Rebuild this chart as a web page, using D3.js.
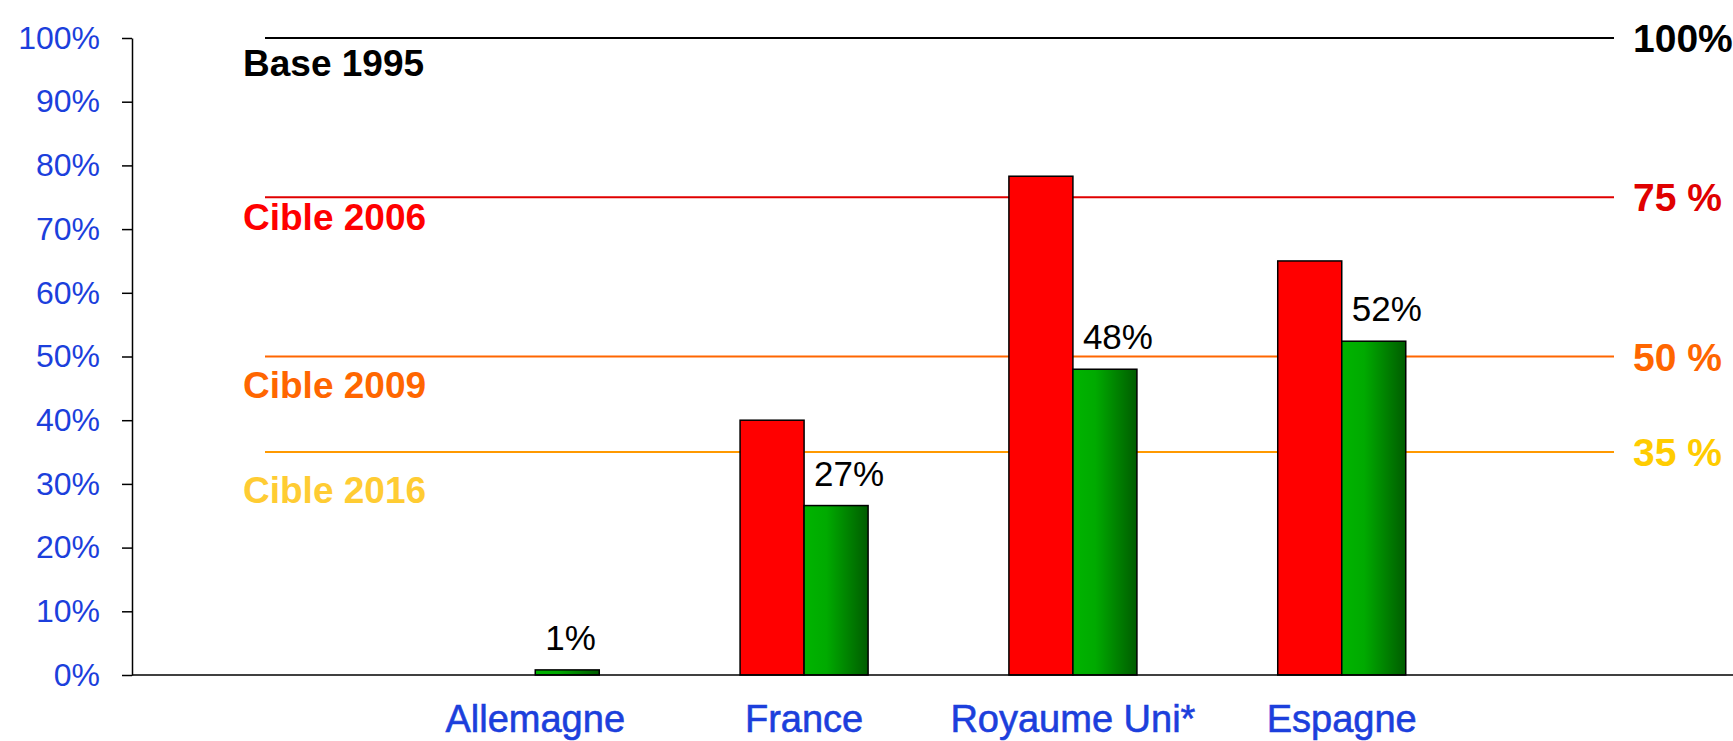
<!DOCTYPE html>
<html>
<head>
<meta charset="utf-8">
<script src="https://cdn.jsdelivr.net/npm/d3@7"></script>
<style>
    body { margin: 0; background: #fff; }
    text { font-family: "Liberation Sans", Arial, sans-serif; }
</style>
</head>
<body>
<div id="chart"></div>
<script>
// data
const countries = ["Allemagne", "France", "Royaume Uni*", "Espagne"];
const seriesNames = ["red", "green"];
const redValues = [null, 0.40, 0.783, 0.65];
const greenValues = [0.008, 0.266, 0.48, 0.524];

const targetValues = [1, 0.75, 0.5, 0.35];
const targetNames = ["Base 1995", "Cible 2006", "Cible 2009", "Cible 2016"];
const targetTags = ["100%", "75 %", "50 %", "35 %"];

const yTicks = [0, 0.1, 0.2, 0.3, 0.4, 0.5, 0.6, 0.7, 0.8, 0.9, 1];

// styles
const lineColors = ["#000000", "#e00000", "#ff6600", "#ff9900"];
const nameColors = ["#000000", "#ff0000", "#ff6600", "#ffcc33"];
const tagColors = ["#000000", "#e00000", "#ff6600", "#ffcc00"];
const nameDy = [38, 33, 41, 51];
const blue = "#1c3fdc";

const width = 1733, height = 741;
const plotLeft = 132, plotTop = 38, plotBottom = 675;

const svg = d3.select("#chart")
    .append("svg")
    .attr("width", width)
    .attr("height", height);

const defs = svg.append("defs");
const grad = defs.append("linearGradient")
    .attr("id", "greenGrad")
    .attr("x1", "0").attr("x2", "1").attr("y1", "0").attr("y2", "0");
grad.append("stop").attr("offset", "0%").attr("stop-color", "#00b400");
grad.append("stop").attr("offset", "35%").attr("stop-color", "#00aa00");
grad.append("stop").attr("offset", "100%").attr("stop-color", "#005c00");

const yScale = d3.scaleLinear()
    .domain([0, 1])
    .range([plotBottom, plotTop]);

const xScale = d3.scaleBand()
    .domain(countries)
    .range([plotLeft, 1745])
    .paddingOuter(1);

const xInner = d3.scaleBand()
    .domain(seriesNames)
    .range([0, xScale.bandwidth()])
    .paddingOuter(1.1);

// y axis
const yAxis = svg.append("g")
    .attr("transform", "translate(" + plotLeft + ",0)")
    .call(d3.axisLeft(yScale)
        .tickValues(yTicks)
        .tickSize(10)
        .tickSizeOuter(0)
        .tickPadding(22)
        .tickFormat(d3.format(".0%")));

yAxis.select(".domain").attr("stroke", "#000").attr("stroke-width", 1.5);
yAxis.selectAll(".tick line").attr("stroke", "#000").attr("stroke-width", 1.5);
yAxis.selectAll(".tick text")
    .attr("fill", blue)
    .style("font-size", "32px")
    .style("font-family", "'Liberation Sans', Arial, sans-serif");

// target lines
const targets = targetValues.map((v, i) => ({
    value: v, name: targetNames[i], tag: targetTags[i], i: i
}));

const tg = svg.append("g").attr("class", "targets");

tg.selectAll("line")
    .data(targets)
    .enter()
    .append("line")
    .attr("x1", 265)
    .attr("x2", 1614)
    .attr("y1", d => yScale(d.value))
    .attr("y2", d => yScale(d.value))
    .attr("stroke", d => lineColors[d.i])
    .attr("stroke-width", 2);

tg.selectAll(".name")
    .data(targets)
    .enter()
    .append("text")
    .attr("class", "name")
    .attr("x", 243)
    .attr("y", d => yScale(d.value) + nameDy[d.i])
    .attr("fill", d => nameColors[d.i])
    .style("font-size", "37px")
    .style("font-weight", "bold")
    .text(d => d.name);

tg.selectAll(".tag")
    .data(targets)
    .enter()
    .append("text")
    .attr("class", "tag")
    .attr("x", 1633)
    .attr("y", d => yScale(d.value) + 14)
    .attr("fill", d => tagColors[d.i])
    .style("font-size", "39px")
    .style("font-weight", "bold")
    .text(d => d.tag);

// bars
const rows = countries.map((c, i) => ({
    country: c,
    values: [
        { key: "red", value: redValues[i] },
        { key: "green", value: greenValues[i] }
    ]
}));

const groups = svg.append("g")
    .attr("class", "bars")
    .selectAll("g")
    .data(rows)
    .enter()
    .append("g")
    .attr("transform", d => "translate(" + xScale(d.country) + ",0)");

groups.selectAll("rect")
    .data(d => d.values.filter(v => v.value != null))
    .enter()
    .append("rect")
    .attr("x", d => xInner(d.key))
    .attr("y", d => yScale(d.value))
    .attr("width", xInner.bandwidth())
    .attr("height", d => yScale(0) - yScale(d.value))
    .attr("fill", d => d.key === "red" ? "#ff0000" : "url(#greenGrad)")
    .attr("stroke", "#000")
    .attr("stroke-width", 1.5);

groups.append("text")
    .attr("x", xInner("green") + 10)
    .attr("y", d => yScale(d.values[1].value) - 20)
    .attr("fill", "#000")
    .style("font-size", "35px")
    .text(d => d3.format(".0%")(d.values[1].value));

// base line
svg.append("line")
    .attr("x1", plotLeft)
    .attr("x2", width)
    .attr("y1", yScale(0))
    .attr("y2", yScale(0))
    .attr("stroke", "#000")
    .attr("stroke-width", 1.5);

// category labels
svg.append("g")
    .selectAll("text")
    .data(countries)
    .enter()
    .append("text")
    .attr("x", d => xScale(d) + xScale.bandwidth() / 2)
    .attr("y", 732)
    .attr("text-anchor", "middle")
    .attr("fill", blue)
    .attr("stroke", blue)
    .attr("stroke-width", 0.6)
    .style("font-size", "38px")
    .text(d => d);
</script>
</body>
</html>
